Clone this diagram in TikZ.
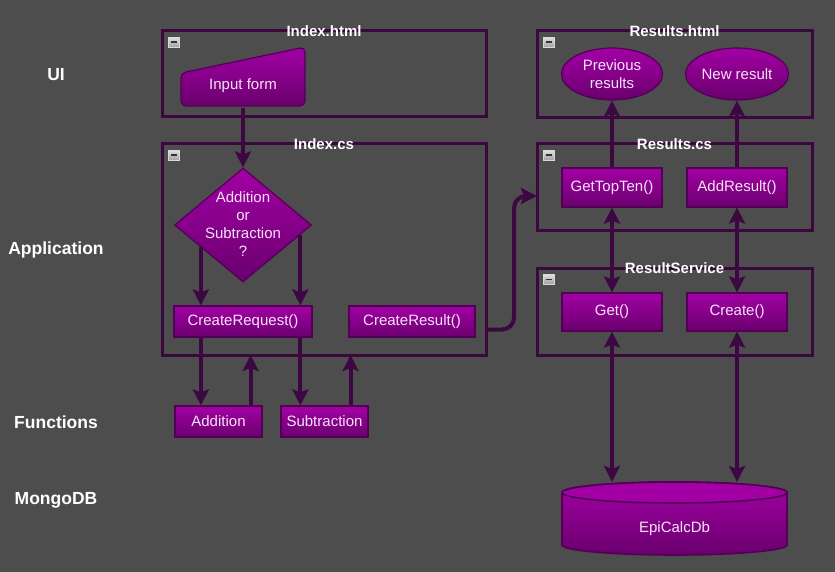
\documentclass[tikz,border=0pt]{standalone}
\usepackage{fontspec}
\setmainfont{Liberation Sans}
\usepackage{xcolor}
\usepackage{tikz}
\usetikzlibrary{shapes,arrows,positioning,calc,arrows.meta}

\definecolor{bgcol}{RGB}{77,77,77}
\definecolor{framecol}{RGB}{58,8,62}
\definecolor{linecol}{RGB}{60,8,66}
\definecolor{edgecol}{RGB}{82,0,86}
\definecolor{boxtop}{RGB}{162,0,164}
\definecolor{boxbot}{RGB}{106,0,110}
\definecolor{txtcol}{RGB}{248,226,248}

\begin{document}
\begin{tikzpicture}[x=1pt,y=-1pt,
    >={Stealth[length=16pt,width=16pt,inset=3pt]},
    frame/.style={draw=framecol,line width=3pt,inner sep=0pt,outer sep=0pt},
    title/.style={text=white,font=\bfseries\fontsize{15}{17}\selectfont,inner sep=0pt},
    layer/.style={text=white,font=\bfseries\fontsize{17.5}{20}\selectfont},
    box/.style={draw=edgecol,line width=1.2pt,top color=boxtop,bottom color=boxbot,
        text=txtcol,font=\fontsize{15}{18}\selectfont,inner sep=1pt,align=center},
    minus/.style={draw=gray!30,line width=0.6pt,top color=gray!25,bottom color=gray!75,
        minimum width=11pt,minimum height=10pt,inner sep=0pt,
        path picture={\draw[black!80,line width=1.6pt]
            ([xshift=2.5pt]path picture bounding box.west) -- ([xshift=-2.5pt]path picture bounding box.east);}},
    link/.style={draw=linecol,line width=4pt}]
    \fill[bgcol] (0,0) rectangle (835,572);
    \useasboundingbox (0,0) rectangle (835,572);
    % Layers
    \node[layer] (ui) at (56,75) {UI};
    \node[layer] (app) at (56,250) {Application};
    \node[layer] (func) at (56,422) {Functions};
    \node[layer] (mongo) at (56,500) {MongoDB};
    % Frames
    \node[frame,minimum width=324pt,minimum height=86pt] (indexhtml) at (324,74) {};
    \node[frame,minimum width=324pt,minimum height=211pt] (indexcs) at (324,249.5) {};
    \node[frame,minimum width=275pt,minimum height=87pt] (resultshtml) at (674.5,74.5) {};
    \node[frame,minimum width=275pt,minimum height=86pt] (resultscs) at (674.5,187) {};
    \node[frame,minimum width=275pt,minimum height=87pt] (resultservice) at (674.5,311.5) {};
    \foreach \f/\t in {indexhtml/Index.html,indexcs/Index.cs,resultshtml/Results.html,
                       resultscs/Results.cs,resultservice/ResultService}{
        \node[title] at (\f.north) {\t};
        \node[minus,below right=6pt and 6pt of \f.north west] {};
    }
    % Index.html
    \shade[top color=boxtop,bottom color=boxbot,draw=edgecol,line width=1.2pt,rounded corners=5pt]
        (181,106) -- (305,106) -- (305,47) -- (181,73) -- cycle;
    \node[text=txtcol,font=\fontsize{15}{18}\selectfont,minimum width=124pt,minimum height=44pt] (input) at (243,85.5) {Input form};
    % Index.cs
    \node[box,diamond,minimum width=137pt,minimum height=114pt,inner sep=0pt] (decide) at (243,225)
        {\smash{\makebox[0pt]{\raisebox{-4.5pt}{\begin{tabular}{@{}c@{}}Addition\\or\\Subtraction\\?\end{tabular}}}}};
    \node[box,minimum width=138pt,minimum height=31pt] (createreq) at (243,321.5) {CreateRequest()};
    \node[box,minimum width=126pt,minimum height=31pt] (createres) at (412,321.5) {CreateResult()};
    % Functions
    \node[box,minimum width=87pt,minimum height=31pt] (addition) at (218.5,421.5) {Addition};
    \node[box,minimum width=87pt,minimum height=31pt] (subtraction) at (324.5,421.5) {Subtraction};
    % Results.html
    \node[box,ellipse,minimum width=101pt,minimum height=52pt] (prev) at (612,74) {Previous\\results};
    \node[box,ellipse,minimum width=101pt,minimum height=52pt] (newres) at (737,74) {New result};
    % Results.cs and ResultService
    \node[box,minimum width=100pt,minimum height=39pt] (gettopten) at (612,187.5) {GetTopTen()};
    \node[box,minimum width=100pt,minimum height=39pt] (addresult) at (737,187.5) {AddResult()};
    \node[box,minimum width=100pt,minimum height=38pt] (get) at (612,312) {Get()};
    \node[box,minimum width=100pt,minimum height=38pt] (create) at (737,312) {Create()};
    % MongoDB
    \shade[top color=boxtop,bottom color=boxbot,draw=edgecol,line width=1.6pt]
        (562,492.5) -- (562,545) arc[start angle=180,end angle=0,x radius=112.5,y radius=10]
        -- (787,492.5) arc[start angle=0,end angle=-180,x radius=112.5,y radius=10.5] -- cycle;
    \draw[edgecol,line width=1.6pt,fill=boxtop] (674.5,492.5) ellipse[x radius=112.5,y radius=10.5];
    \node[text=txtcol,font=\fontsize{15}{18}\selectfont] (db) at (674.5,529) {EpiCalcDb};
    \coordinate (dbtop) at (674.5,482);
    % Arrows
    \coordinate (dl) at ($(decide.west)!0.39!(decide.south)$);
    \coordinate (dr) at ($(decide.east)!0.17!(decide.south)$);
    \coordinate (bend) at ($(indexcs.east)!0.55!(resultscs.west)$);
    \draw[link,->] (input.south) -- (decide.north);
    \draw[link,->] (dl) -- (dl |- createreq.north);
    \draw[link,->] (dr) -- (dr |- createreq.north);
    \draw[link,->] (dl |- createreq.south) -- (dl |- addition.north);
    \draw[link,->] (dr |- createreq.south) -- (dr |- subtraction.north);
    \draw[link,->] ([xshift=-12pt]addition.north east) coordinate (au) -- (au |- indexcs.south);
    \draw[link,->] ([xshift=-18pt]subtraction.north east) coordinate (su) -- (su |- indexcs.south);
    \draw[link,->,rounded corners=12pt] ($(createres.east -| indexcs.east)+(2,8)$)
        -| ($(bend |- resultscs.west)+(0,9)$) -- ($(resultscs.west)+(0,9)$);
    \draw[link,->] (gettopten.north) -- (prev.south);
    \draw[link,->] (addresult.north) -- (newres.south);
    \draw[link,<->] (gettopten.south) -- (get.north);
    \draw[link,<->] (addresult.south) -- (create.north);
    \draw[link,<->] (get.south) -- (get |- dbtop);
    \draw[link,<->] (create.south) -- (create |- dbtop);
\end{tikzpicture}
\end{document}
